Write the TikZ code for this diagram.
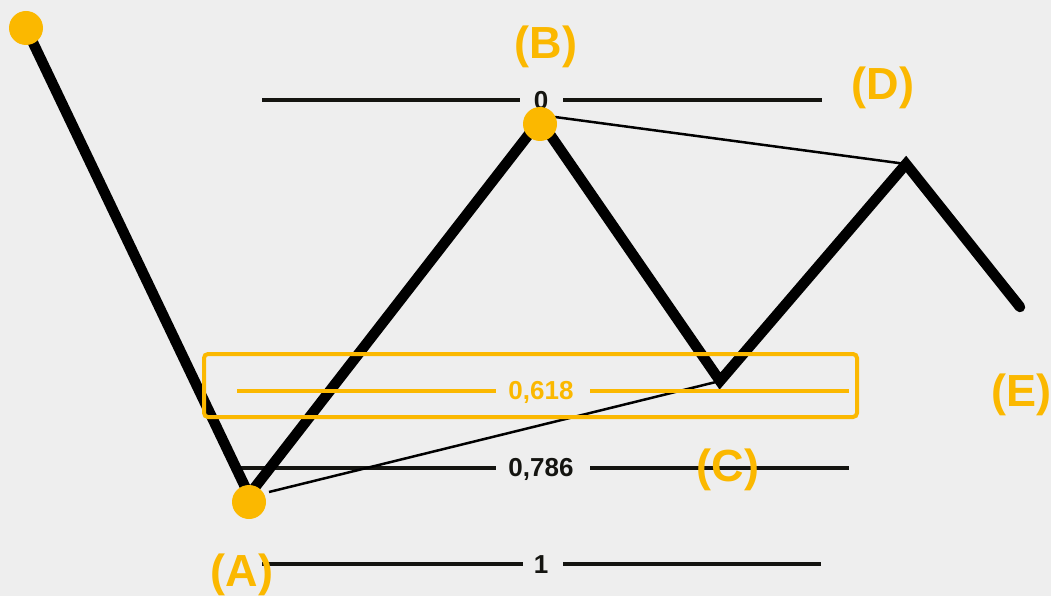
\documentclass[tikz,border=0pt]{standalone}
\usepackage{fontspec}
\setmainfont{Liberation Sans}
\usetikzlibrary{positioning}
\definecolor{fibgold}{RGB}{251,184,0}
\definecolor{fibink}{RGB}{20,20,16}
\definecolor{fibbg}{RGB}{238,238,238}

\begin{document}
\begin{tikzpicture}[x=1pt, y=-1pt,
        wave/.style={black, line width=10.5pt, line cap=round, line join=miter},
        guide/.style={black, line width=2.5pt},
        lvl/.style={fibink, line width=3.5pt},
        num/.style={text=fibink, inner sep=0pt,
            font=\bfseries\fontsize{26}{26}\selectfont},
        dot/.style={circle, fill=fibgold, inner sep=0pt, minimum size=34pt},
        lbl/.style={text=fibgold, inner sep=0pt,
            font=\bfseries\fontsize{45}{45}\selectfont}
    ]
    \fill[fibbg] (0, 0) rectangle (1051, 596);

    % fib levels
    \node[num] (n0) at (541, 101) {0};
    \node[num] (n786) at (541, 469) {0,786};
    \node[num] (n1) at (541, 565) {1};
    \coordinate (l0a) at (262, 100);   \coordinate (l0b) at (822, 100);
    \coordinate (l7a) at (237, 468);   \coordinate (l7b) at (849, 468);
    \coordinate (l1a) at (262, 564);   \coordinate (l1b) at (821, 564);
    \draw[lvl] (l0a) -- (520, 100);  \draw[lvl] (563, 100) -- (l0b);
    \draw[lvl] (l7a) -- (496, 468);  \draw[lvl] (590, 468) -- (l7b);
    \draw[lvl] (l1a) -- (523, 564);  \draw[lvl] (563, 564) -- (l1b);

    % wave
    \coordinate (p0) at (26, 28);
    \coordinate (pa) at (249, 495);
    \coordinate (pb) at (540, 120);
    \coordinate (pc) at (720, 381);
    \coordinate (pd) at (906, 164);
    \coordinate (pe) at (1020, 307);
    \draw[wave] (p0) -- (pa) -- (pb) -- (pc) -- (pd) -- (pe);
    \draw[guide] (pa) ++(20, -3) -- (pc);
    \draw[guide] (pb) ++(15, -3) -- (pd);

    % 0,618 zone
    \node[draw=fibgold, line width=4pt, rounded corners=4pt,
        minimum width=653pt, minimum height=63pt] (zone) at (530.5, 385.5) {};
    \node[num, text=fibgold] (n618) at (541, 392) {0,618};
    \coordinate (l6a) at (237, 391);   \coordinate (l6b) at (849, 391);
    \draw[lvl, fibgold] (l6a) -- (496, 391);
    \draw[lvl, fibgold] (590, 391) -- (l6b);

    \node[dot] (d0) at (26, 28) {};
    \node[dot] (da) at (249, 502) {};
    \node[dot] (db) at (540, 124) {};

    \node[lbl] (la) at (242, 575) {(A)};
    \node[lbl] (lb) at (546, 47) {(B)};
    \node[lbl] (lc) at (728, 470) {(C)};
    \node[lbl] (ld) at (883, 88) {(D)};
    \node[lbl] (le) at (1021, 395) {(E)};
\end{tikzpicture}
\end{document}
